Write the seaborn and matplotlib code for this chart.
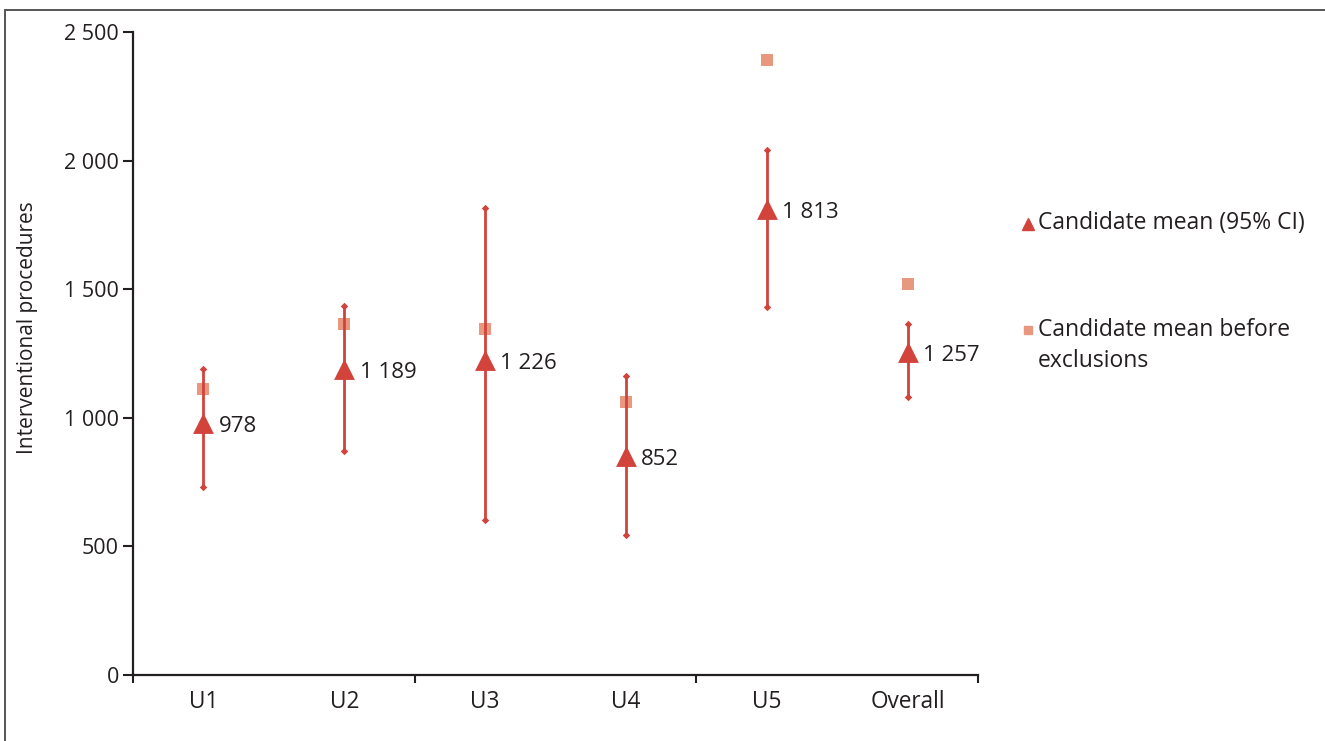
import seaborn as sns
import matplotlib.pyplot as plt
import numpy as np
import pandas as pd
from matplotlib.lines import Line2D

# data
units = ['U1', 'U2', 'U3', 'U4', 'U5', 'Overall']
mean_after = [978, 1189, 1226, 852, 1813, 1257]
ci_low = [731, 871, 603, 544, 1431, 1081]
ci_high = [1190, 1435, 1816, 1163, 2041, 1365]
mean_before = [1112, 1365, 1345, 1061, 2391, 1520]

y_ticks = [0, 500, 1000, 1500, 2000, 2500]

RED = '#d1433b'
SALMON = '#e7987f'
INK = '#231f20'

df = pd.DataFrame({'unit': units, 'mean': mean_after, 'lo': ci_low,
                   'hi': ci_high, 'before': mean_before})
df['pos'] = np.arange(len(units))


def fmt(v):
    return f'{v:,}'.replace(',', ' ')


sns.set_theme(style='ticks')
plt.rcParams['font.family'] = ['Open Sans', 'DejaVu Sans']

fig = plt.figure(figsize=(13.25, 7.41), dpi=100)
ax = fig.add_axes([133 / 1325, 1 - 675 / 741, 845 / 1325, (675 - 32) / 741])

# before-exclusion squares sit behind the CI lines
sns.scatterplot(data=df, x='pos', y='before', marker='s', s=8 ** 2,
                color=SALMON, linewidth=0, ax=ax, zorder=2, legend=False)

# confidence intervals with small diamond caps
ax.vlines(df['pos'], df['lo'], df['hi'], color=RED, lw=2, zorder=3)
sns.scatterplot(x=np.concatenate([df['pos'], df['pos']]),
                y=np.concatenate([df['lo'], df['hi']]),
                marker='D', s=3.8 ** 2, color=RED, linewidth=0, ax=ax,
                zorder=4, legend=False)

# candidate means
sns.scatterplot(data=df, x='pos', y='mean', marker='^', s=15 ** 2,
                color=RED, linewidth=0, ax=ax, zorder=5, legend=False)

for _, r in df.iterrows():
    ax.annotate(fmt(r['mean']), (r['pos'], r['mean']), xytext=(11, -2.5),
                textcoords='offset points', va='center', ha='left',
                fontsize=16, color=INK)

ax.set_xlim(-0.5, len(units) - 0.5)
ax.set_ylim(0, 2500)
ax.set_xticks(df['pos'])
ax.set_xticklabels(units, fontsize=16.3, color=INK)
ax.set_xticks([-0.5, 1.5, 3.5, 5.5], minor=True)
ax.tick_params(axis='x', which='major', length=0, pad=11)
ax.tick_params(axis='x', which='minor', length=6, width=1.5, color=INK,
               direction='out')
ax.set_yticks(y_ticks)
ax.set_yticklabels([fmt(t) for t in y_ticks], fontsize=15.5, color=INK)
ax.tick_params(axis='y', length=7, width=1.5, color=INK, pad=3)
ax.set_xlabel('')
ax.set_ylabel('Interventional procedures', fontsize=15, color=INK)
ax.yaxis.set_label_coords(-0.112, 0.541)

sns.despine(ax=ax)
for side in ['left', 'bottom']:
    ax.spines[side].set_linewidth(1.6)
    ax.spines[side].set_color(INK)

# legend drawn by hand to match the reference layout
fig.add_artist(Line2D([1028 / 1325], [1 - 224 / 741], marker='^', ms=9,
                      color=RED, lw=0, transform=fig.transFigure))
fig.text(1038 / 1325, 1 - 223 / 741, 'Candidate mean (95% CI)',
         fontsize=16.5, color=INK, va='center', ha='left')
fig.add_artist(Line2D([1028 / 1325], [1 - 330 / 741], marker='s', ms=6,
                      color=SALMON, lw=0, transform=fig.transFigure))
fig.text(1038 / 1325, 1 - 318 / 741, 'Candidate mean before\nexclusions',
         fontsize=16.5, color=INK, va='top', ha='left', linespacing=1.4)

# outer frame (left and top edges)
frame_kw = dict(color='#555555', lw=1.4, transform=fig.transFigure)
fig.add_artist(Line2D([5 / 1325, 5 / 1325], [0, 1 - 10 / 741], **frame_kw))
fig.add_artist(Line2D([5 / 1325, 1], [1 - 10 / 741, 1 - 10 / 741], **frame_kw))

fig.savefig('out.png', dpi=100, facecolor='white')
